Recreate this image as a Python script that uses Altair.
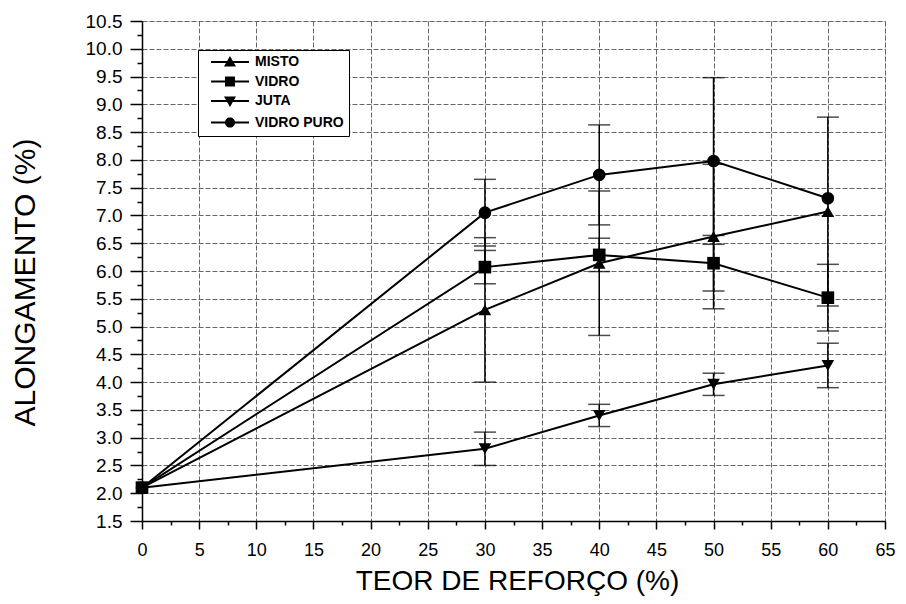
import math
import altair as alt
import pandas as pd

# ---------------- data ----------------
x_vals = [0, 30, 40, 50, 60]
series_names = ["MISTO", "VIDRO", "JUTA", "VIDRO PURO"]

misto = [2.1, 5.3, 6.14, 6.62, 7.07]
misto_err = [0, 1.3, 1.3, 1.3, 1.7]
vidro = [2.1, 6.07, 6.29, 6.14, 5.52]
vidro_err = [0, 0.3, 0.3, 0.5, 0.6]
juta = [2.1, 2.8, 3.4, 3.96, 4.3]
juta_err = [0, 0.3, 0.2, 0.2, 0.4]
puro = [2.1, 7.05, 7.73, 7.98, 7.31]
puro_err = [0, 0.6, 0.9, 1.5, 0]

y_major = [1.5, 2.0, 2.5, 3.0, 3.5, 4.0, 4.5, 5.0, 5.5, 6.0, 6.5, 7.0,
           7.5, 8.0, 8.5, 9.0, 9.5, 10.0, 10.5]
x_major = [0, 5, 10, 15, 20, 25, 30, 35, 40, 45, 50, 55, 60, 65]

y_minor = [(a + b) / 2 for a, b in zip(y_major, y_major[1:])]
x_minor = [(a + b) / 2 for a, b in zip(x_major, x_major[1:])]
y_ticks = sorted(y_major + y_minor)
x_ticks = sorted(x_major + x_minor)

values = {"MISTO": (misto, misto_err), "VIDRO": (vidro, vidro_err),
          "JUTA": (juta, juta_err), "VIDRO PURO": (puro, puro_err)}

rows = []
for s in series_names:
    ys, es = values[s]
    for xv, yv, ev in zip(x_vals, ys, es):
        rows.append({"series": s, "x": xv, "y": yv, "err": ev,
                     "lo": yv - ev, "hi": yv + ev})
df = pd.DataFrame(rows)

caps = []
for r in rows:
    if r["err"] > 0:
        caps.append({"series": r["series"], "x": r["x"], "cap": r["lo"]})
        caps.append({"series": r["series"], "x": r["x"], "cap": r["hi"]})
caps_df = pd.DataFrame(caps)

chart_shapes = ["triangle-up", "square", "triangle-down", "circle"]


# legend symbols "—marker—" as filled custom paths (unit = half symbol size)
def circle_path(cx, rad, n=24):
    pts = []
    for i in range(n):
        a = 2 * math.pi * i / n
        pts.append(f"{cx + rad * math.cos(a):.3f},{rad * math.sin(a):.3f}")
    return "M" + "L".join(pts) + "Z"


MC = 3.33  # marker centre offset
line_part = "M0.17,-0.15L6.5,-0.15L6.5,0.15L0.17,0.15Z"
legend_paths = [
    line_part + f"M{MC},-1L{MC + 1},0.75L{MC - 1},0.75Z",
    line_part + f"M{MC - 0.83},-0.83L{MC + 0.83},-0.83L{MC + 0.83},0.83L{MC - 0.83},0.83Z",
    line_part + f"M{MC - 1},-0.75L{MC + 1},-0.75L{MC},1Z",
    line_part + circle_path(MC, 0.85),
]

FONT = "Liberation Sans"
y_minor_test = "abs(datum.value*2 - round(datum.value*2)) > 0.01"
x_minor_test = "abs(datum.value/5 - round(datum.value/5)) > 0.01"

x_axis = alt.Axis(
    values=x_ticks,
    title="TEOR DE REFORÇO (%)",
    labelExpr=f"{x_minor_test} ? '' : format(datum.value, 'd')",
    labelFont=FONT, labelFontSize=18, labelColor="black", labelPadding=12,
    labelOverlap=False, labelFlush=False,
    tickSize={"condition": {"test": x_minor_test, "value": 4}, "value": 8},
    tickColor="black", tickWidth=1.5,
    domainColor="black", domainWidth=1.5,
    grid=True, gridColor="#666666", gridDash=[5, 2], gridWidth=1,
    gridOpacity={"condition": {"test": x_minor_test, "value": 0}, "value": 1},
    titleFont=FONT, titleFontSize=28, titleFontWeight="normal", titleColor="black",
    titleX=375, titleY=68, titleBaseline="alphabetic", titleAlign="center",
)
y_axis = alt.Axis(
    values=y_ticks,
    title="ALONGAMENTO (%)",
    labelExpr=f"{y_minor_test} ? '' : format(datum.value, '.1f')",
    labelFont=FONT, labelFontSize=19, labelColor="black", labelPadding=8,
    labelOverlap=False, labelFlush=False,
    tickSize={"condition": {"test": y_minor_test, "value": 5}, "value": 12},
    tickColor="black", tickWidth=1.5,
    domainColor="black", domainWidth=1.5,
    grid=True, gridColor="#666666", gridDash=[5, 2], gridWidth=1,
    gridOpacity={"condition": {"test": y_minor_test, "value": 0}, "value": 1},
    titleFont=FONT, titleFontSize=30, titleFontWeight="normal", titleColor="black",
    titleAngle=270, titleX=-117, titleY=261, titleBaseline="middle", titleAlign="center",
)

x_scale = alt.Scale(domain=[0, 65], nice=False, zero=False)
y_scale = alt.Scale(domain=[1.5, 10.5], nice=False, zero=False)

base = alt.Chart(df)
X = alt.X("x:Q", scale=x_scale, axis=x_axis)

lines = base.mark_line(color="black", strokeWidth=2).encode(
    x=X,
    y=alt.Y("y:Q", scale=y_scale, axis=y_axis),
    detail="series:N",
)

err_rules = base.transform_filter("datum.err > 0").mark_rule(
    color="black", strokeWidth=1.5).encode(
    x=X,
    y=alt.Y("lo:Q", scale=y_scale, axis=y_axis),
    y2="hi:Q",
    detail="series:N",
)

err_caps = alt.Chart(caps_df).mark_tick(
    color="black", orient="horizontal", size=22, thickness=1.5).encode(
    x=X,
    y=alt.Y("cap:Q", scale=y_scale, axis=y_axis),
    detail="series:N",
)

point_layers = []
for name, shp in zip(series_names, chart_shapes):
    point_layers.append(
        base.transform_filter(alt.datum.series == name).mark_point(
            filled=True, color="black", size=160, opacity=1, shape=shp).encode(
            x=X,
            y=alt.Y("y:Q", scale=y_scale, axis=y_axis),
        )
    )

legend_layer = base.transform_filter("datum.x < 0").mark_point(
    filled=True, color="black").encode(
    x=X,
    y=alt.Y("y:Q", scale=y_scale, axis=y_axis),
    shape=alt.Shape("series:N",
                    scale=alt.Scale(domain=series_names, range=legend_paths),
                    legend=alt.Legend(
                        title=None, orient="none", legendX=56, legendY=29,
                        symbolSize=144, symbolFillColor="black",
                        symbolOpacity=1,
                        labelOffset=38, labelFont=FONT, labelFontSize=14,
                        labelFontWeight="bold", labelColor="black",
                        strokeColor="black", fillColor="white", padding=5,
                        rowPadding=3.5)),
)

chart = alt.layer(lines, err_rules, err_caps, *point_layers, legend_layer).properties(
    width=743, height=500,
    autosize=alt.AutoSizeParams(type="none"),
    padding={"left": 134, "top": 13, "right": 13, "bottom": 75},
).configure_view(stroke=None).configure(background="white")

chart.save("out.html", embed_options={"renderer": "svg", "actions": False})
